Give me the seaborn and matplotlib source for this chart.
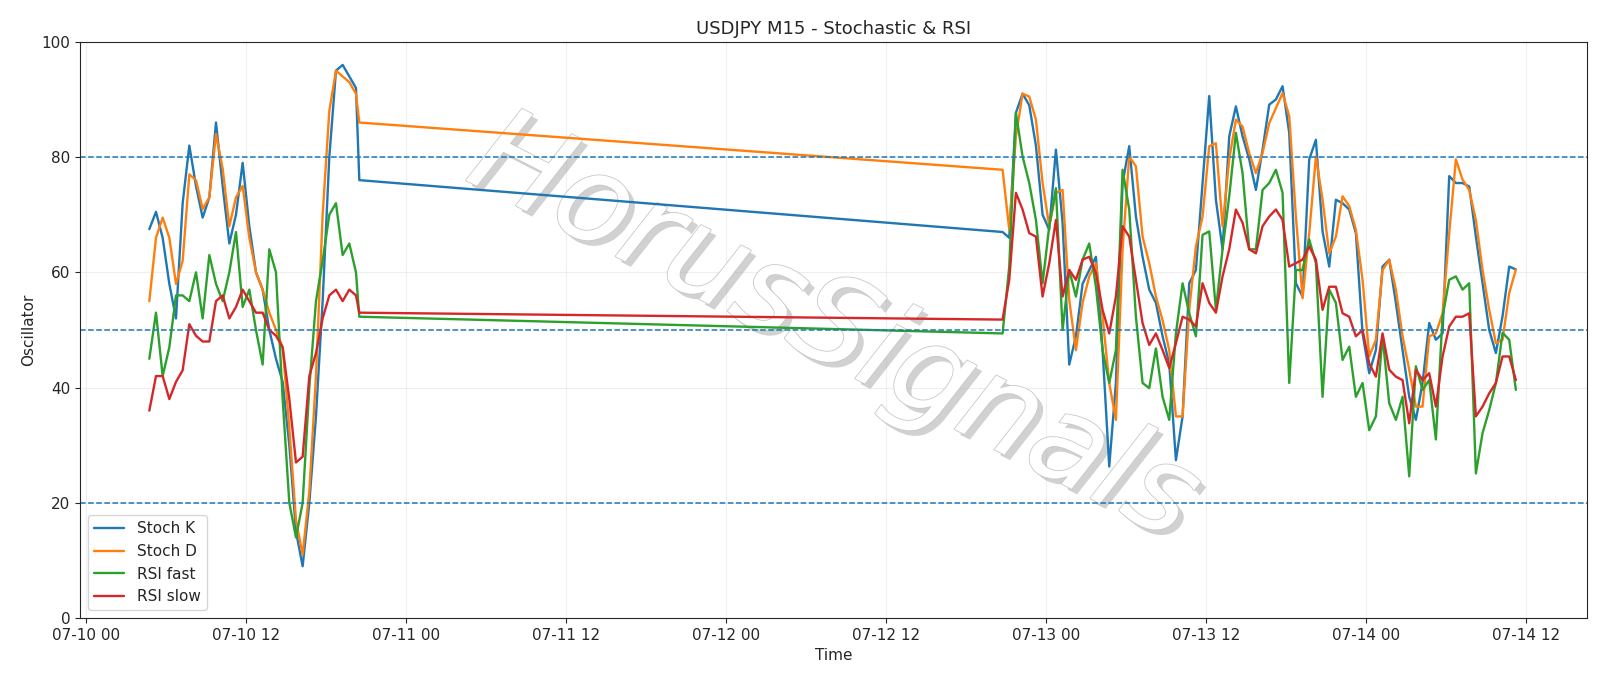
import pandas as pd
import numpy as np
import matplotlib
matplotlib.use("Agg")
import matplotlib.pyplot as plt
import matplotlib.dates as mdates
import matplotlib.patheffects as pe
import seaborn as sns

# segment 1: 07-10 04:45 -> 20:30, segment 2: 07-12 20:45 -> 07-14 11:15 (30-min samples)
seg1_k = [67.5, 70.5, 66, 58, 52, 72, 82, 75, 69.5, 73, 86, 75, 65, 70, 79, 68, 60,
          57, 50, 45, 41, 30, 15, 9, 20, 35, 55, 80, 95, 96, 94, 92, 76]
seg1_d = [55, 66, 69.5, 66, 58, 62, 77, 76, 71, 73, 84, 78, 68, 73, 75, 66, 60,
          57, 53, 50, 47, 33, 17, 11, 22, 42, 70, 88, 95, 94, 93, 91, 86]
seg1_rf = [45, 53, 42, 47, 56, 56, 55, 60, 52, 63, 58, 55, 60, 67, 54, 57, 50,
           44, 64, 60, 38, 20, 14, 20, 40, 55, 62, 70, 72, 63, 65, 60, 52.3]
seg1_rs = [36, 42, 42, 38, 41, 43, 51, 49, 48, 48, 55, 56, 52, 54, 57, 55, 53,
           53, 50, 49, 47, 38, 27, 28, 42, 46, 52, 56, 57, 55, 57, 56, 53]

seg2_k = [67, 66, 87.7, 91, 89, 82, 70, 67.4, 81.3, 68.6, 44, 48.9, 58, 60.4, 62.7, 46.5,
          26.3, 40.8, 75.5, 81.9, 69.7, 62.7,
          57, 54.7, 48.9, 44.2, 27.4, 35, 58.1, 60.4, 75.5, 90.6, 72.6, 64, 83.6, 88.8, 83.6,
          79.6, 74.3, 81.3, 89.1, 90, 92.3, 84.2, 58.1, 55.8, 79.6, 83,
          67.1, 61, 72.6, 72, 70.9, 66.8, 49.4, 42.5, 46.5, 61, 62.2, 54.7, 46.5, 38.4,
          34.4, 40.8, 51.2, 48.3, 49.4, 76.7, 75.5, 75.5, 74.9, 66.2, 58.1, 50, 46,
          52.4, 61, 60.5]
seg2_d = [77.8, 67.4, 83.6, 91, 90.5, 86.5, 75.5, 68, 73.8, 74.3, 55.2, 46.5, 54.7, 59.3,
          61.6, 52.3, 40.8, 34.4, 64, 80.1, 78.4, 66.2,
          61.6, 55.8, 51.7, 46.5, 35, 35, 53.5, 64.5, 69.7, 81.9, 82.4, 68, 79.6, 86.5, 85.3,
          80.7, 77.2, 80.7, 85.9, 88.5, 91.1, 87.1, 69.7, 55.5, 66.8, 80.1,
          72.6, 63.3, 66.2, 73.2, 71.5, 67.4, 58.7, 45.4, 48.3, 60.4, 62.2, 57, 48.9, 43.1,
          36.7, 36.7, 48.9, 49.4, 52.9, 66.8, 79.6, 76.1, 74.3, 69.1, 60.4, 53.5, 47.7,
          48.3, 56.4, 60.5]
seg2_rf = [49.4, 61, 87.7, 80.1, 75.5, 69.1, 58.1, 68, 74.6, 50, 60.4, 55.8, 62.2, 65,
           57.5, 46.5, 40.8, 46.5, 77.8, 70.9, 52.3, 40.8,
           39.9, 46.8, 38.4, 34.4, 49.4, 58.1, 52.9, 48.9, 66.5, 67.1, 53.5, 64, 73.2, 84.2,
           77.2, 64, 64, 74.3, 75.5, 77.8, 73.8, 40.8, 60.4, 60.4, 65.7, 61.6,
           38.4, 57, 54.7, 44.8, 47.1, 38.4, 40.8, 32.6, 35, 48.9, 37.3, 34.4, 38.4, 24.6,
           43.7, 39.6, 41.3, 31, 52.3, 58.7, 59.3, 57, 58.1, 25.1, 32.1, 36.1, 40.8,
           49.5, 48.3, 39.6]
seg2_rs = [51.8, 58.7, 73.8, 70.9, 66.8, 66.2, 55.8, 61.6, 69.1, 55.8, 60.4, 58.7, 62.2,
           62.7, 59.9, 53.5, 49.4, 55.8, 68, 66.2, 58.7, 51.2,
           47.4, 49.4, 46.5, 43.4, 47.7, 52.3, 51.8, 50.6, 58.1, 54.7, 53, 59.3, 64, 70.9,
           68.6, 64, 63.3, 68, 69.7, 70.9, 69.1, 61, 61.6, 62.2, 64.5, 62.2,
           53.5, 57.5, 57.5, 52.9, 52.3, 48.9, 50, 44.2, 41.9, 49.4, 43.1, 41.9, 41.3, 33.8,
           43.1, 41.3, 42.5, 36.7, 45.4, 50.6, 52.3, 52.3, 52.9, 35, 36.7, 39, 40.8,
           45.4, 45.4, 41.3]

t1 = list(pd.date_range("2025-07-10 04:45", periods=32, freq="30min")) + [pd.Timestamp("2025-07-10 20:30")]
t2 = list(pd.date_range("2025-07-12 20:45", periods=78, freq="30min"))

df = pd.DataFrame({
    "Time": t1 + t2,
    "Stoch K": seg1_k + seg2_k,
    "Stoch D": seg1_d + seg2_d,
    "RSI fast": seg1_rf + seg2_rf,
    "RSI slow": seg1_rs + seg2_rs,
})
long_df = df.melt(id_vars="Time", var_name="series", value_name="Oscillator")

sns.set_style("ticks")
fig, ax = plt.subplots(figsize=(16, 6.86), dpi=100)
fig.subplots_adjust(left=0.05, right=0.992, top=0.939, bottom=0.099)

sns.lineplot(data=long_df, x="Time", y="Oscillator", hue="series",
             palette=["#1f77b4", "#ff7f0e", "#2ca02c", "#d62728"], linewidth=1.7, ax=ax)

for lvl in (20, 50, 80):
    ax.axhline(lvl, color="#1f77b4", linestyle="--", linewidth=1.1)

ax.grid(True, alpha=0.3)
ax.set_ylim(0, 100)
ax.set_xlim(pd.Timestamp("2025-07-09 23:33"), pd.Timestamp("2025-07-14 16:36"))
ax.xaxis.set_major_locator(mdates.HourLocator(byhour=[0, 12]))
ax.xaxis.set_major_formatter(mdates.DateFormatter("%m-%d %H"))
ax.tick_params(labelsize=11)
ax.set_title("USDJPY M15 - Stochastic & RSI", fontsize=13)
ax.set_xlabel("Time", fontsize=11)
ax.set_ylabel("Oscillator", fontsize=11)
ax.legend(loc="lower left", fontsize=11, title=None)
for s in ax.spines.values():
    s.set_visible(True)

ax.text(0.5, 0.5, "HorusSignals", transform=ax.transAxes, fontsize=88, style="italic",
        fontweight="light", color="white", rotation=-27, ha="center", va="center", zorder=1,
        path_effects=[pe.withSimplePatchShadow(offset=(4, -4), shadow_rgbFace="#999999", alpha=0.45),
                      pe.Stroke(linewidth=1.2, foreground="#c8c8c8"), pe.Normal()])

fig.savefig("out.png", dpi=100)
